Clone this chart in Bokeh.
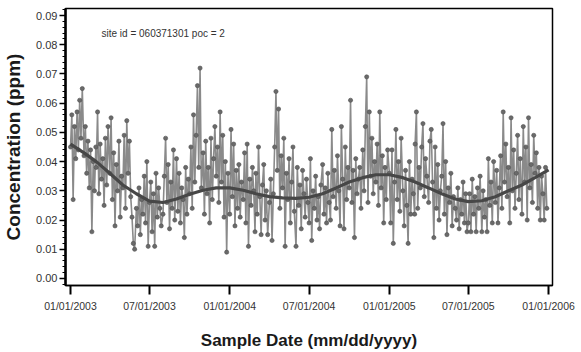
import pandas as pd
from bokeh.plotting import figure
from bokeh.models import (Range1d, FixedTicker, DatetimeTickFormatter, NumeralTickFormatter,
                          SingleIntervalTicker, Label)
from bokeh.embed import file_html
from bokeh.resources import INLINE

# ---- data (ppm), one reading every 3 days: 1,4,7,...,28 of each month ----
sample_days = [1, 4, 7, 10, 13, 16, 19, 22, 25, 28]

conc_2003 = [
    0.045, 0.056, 0.027, 0.052, 0.041, 0.057, 0.044, 0.061, 0.048, 0.065,  # Jan
    0.042, 0.052, 0.036, 0.047, 0.031, 0.044, 0.016, 0.040, 0.030, 0.045,  # Feb
    0.038, 0.057, 0.029, 0.046, 0.034, 0.041, 0.025, 0.048, 0.032, 0.052,  # Mar
    0.036, 0.055, 0.027, 0.043, 0.018, 0.039, 0.030, 0.047, 0.021, 0.035,  # Apr
    0.031, 0.049, 0.024, 0.054, 0.036, 0.047, 0.028, 0.021, 0.012, 0.010,  # May
    0.024, 0.018, 0.031, 0.015, 0.027, 0.022, 0.035, 0.019, 0.040, 0.011,  # Jun
    0.026, 0.033, 0.016, 0.029, 0.011, 0.036, 0.021, 0.031, 0.024, 0.018,  # Jul
    0.022, 0.035, 0.048, 0.026, 0.039, 0.017, 0.033, 0.024, 0.044, 0.020,  # Aug
    0.041, 0.023, 0.036, 0.019, 0.031, 0.027, 0.014, 0.038, 0.022, 0.034,  # Sep
    0.029, 0.045, 0.024, 0.056, 0.033, 0.049, 0.066, 0.038, 0.072, 0.031,  # Oct
    0.043, 0.022, 0.047, 0.029, 0.038, 0.019, 0.048, 0.027, 0.041, 0.052,  # Nov
    0.035, 0.045, 0.026, 0.057, 0.033, 0.049, 0.021, 0.040, 0.009, 0.036,  # Dec
]
conc_2004 = [
    0.022, 0.051, 0.028, 0.046, 0.018, 0.037, 0.024, 0.039, 0.021, 0.033,  # Jan
    0.027, 0.043, 0.019, 0.046, 0.011, 0.034, 0.025, 0.038, 0.030, 0.016,  # Feb
    0.036, 0.022, 0.045, 0.028, 0.015, 0.032, 0.039, 0.020, 0.030, 0.015,  # Mar
    0.026, 0.034, 0.013, 0.029, 0.045, 0.064, 0.037, 0.058, 0.024, 0.042,  # Apr
    0.031, 0.048, 0.011, 0.036, 0.027, 0.041, 0.019, 0.033, 0.045, 0.023,  # May
    0.011, 0.038, 0.025, 0.032, 0.017, 0.037, 0.029, 0.021, 0.034, 0.026,  # Jun
    0.019, 0.041, 0.013, 0.030, 0.024, 0.035, 0.020, 0.028, 0.017, 0.032,  # Jul
    0.039, 0.022, 0.031, 0.019, 0.036, 0.026, 0.020, 0.051, 0.028, 0.037,  # Aug
    0.024, 0.042, 0.030, 0.018, 0.052, 0.034, 0.017, 0.045, 0.027, 0.038,  # Sep
    0.031, 0.061, 0.026, 0.037, 0.014, 0.041, 0.029, 0.034, 0.038, 0.024,  # Oct
    0.044, 0.030, 0.052, 0.069, 0.026, 0.057, 0.035, 0.048, 0.029, 0.040,  # Nov
    0.033, 0.046, 0.025, 0.057, 0.031, 0.042, 0.019, 0.038, 0.027, 0.044,  # Dec
]
conc_2005 = [
    0.036, 0.019, 0.044, 0.012, 0.033, 0.051, 0.027, 0.040, 0.023, 0.048,  # Jan
    0.030, 0.018, 0.037, 0.025, 0.012, 0.040, 0.022, 0.034, 0.029, 0.022,  # Feb
    0.046, 0.057, 0.024, 0.038, 0.031, 0.045, 0.053, 0.028, 0.041, 0.035,  # Mar
    0.026, 0.047, 0.051, 0.033, 0.014, 0.045, 0.024, 0.039, 0.020, 0.030,  # Apr
    0.035, 0.053, 0.022, 0.040, 0.015, 0.031, 0.026, 0.036, 0.018, 0.028,  # May
    0.024, 0.020, 0.031, 0.017, 0.027, 0.022, 0.033, 0.019, 0.029, 0.016,  # Jun
    0.019, 0.029, 0.016, 0.034, 0.022, 0.028, 0.016, 0.031, 0.024, 0.035,  # Jul
    0.016, 0.030, 0.021, 0.027, 0.016, 0.041, 0.025, 0.033, 0.019, 0.040,  # Aug
    0.026, 0.037, 0.019, 0.031, 0.042, 0.024, 0.057, 0.033, 0.046, 0.028,  # Sep
    0.038, 0.019, 0.055, 0.030, 0.044, 0.024, 0.036, 0.049, 0.027, 0.041,  # Oct
    0.022, 0.052, 0.033, 0.045, 0.020, 0.055, 0.031, 0.039, 0.026, 0.049,  # Nov
    0.036, 0.043, 0.024, 0.038, 0.020, 0.035, 0.029, 0.020, 0.038, 0.024,  # Dec
]

# smoothed trend, first of each month Jan 2003 .. Jan 2006
trend = [
    0.046, 0.043, 0.040, 0.036, 0.032, 0.029, 0.0265, 0.026, 0.0272, 0.0288, 0.0302, 0.031,
    0.031, 0.0302, 0.029, 0.028, 0.0276, 0.0274, 0.0278, 0.029, 0.031, 0.033, 0.0345, 0.0355,
    0.0355, 0.0345, 0.033, 0.031, 0.029, 0.0272, 0.0263, 0.0266, 0.028, 0.030, 0.032, 0.0345,
    0.0372,
]

tick_dates = ["2003-01-01", "2003-07-01", "2004-01-01", "2004-07-01",
              "2005-01-01", "2005-07-01", "2006-01-01"]
annotation = "site id = 060371301 poc = 2"

dates = [pd.Timestamp(y, m, d) for y in (2003, 2004, 2005) for m in range(1, 13) for d in sample_days]
conc = conc_2003 + conc_2004 + conc_2005
trend_dates = [pd.Timestamp(2003 + (i // 12), i % 12 + 1, 1) for i in range(len(trend))]


def ms(ts):
    return pd.Timestamp(ts).value / 1e6


p = figure(width=581, height=352, x_axis_type="datetime", output_backend="svg",
           toolbar_location=None,
           x_range=Range1d(ms("2002-12-20 12:00"), ms("2006-01-10")),
           y_range=Range1d(-0.0024, 0.0924),
           min_border_left=64, min_border_right=29, min_border_top=8, min_border_bottom=67)

p.grid.visible = False
p.outline_line_color = "black"
p.outline_line_width = 1.5
p.background_fill_color = "white"
p.border_fill_color = "white"

p.line(dates, conc, line_color="#8a8a8a", line_width=1.6)
p.scatter(dates, conc, size=4.2, fill_color="#6a6a6a", line_color="#505050", line_width=0.6)
p.line(trend_dates, trend, line_color="#474747", line_width=3.2)

# x axis
xa = p.xaxis[0]
xa.ticker = FixedTicker(ticks=[ms(d) for d in tick_dates], minor_ticks=[])
fmt = "%m/%d/%Y"
xa.formatter = DatetimeTickFormatter(days=fmt, months=fmt, years=fmt, hours=fmt,
                                     minutes=fmt, seconds=fmt, milliseconds=fmt,
                                     hourmin=fmt, minsec=fmt, microseconds=fmt)
xa.axis_label = "Sample Date (mm/dd/yyyy)"
xa.axis_label_text_font = "Liberation Sans"
xa.axis_label_text_font_style = "bold"
xa.axis_label_text_font_size = "17px"
xa.axis_label_text_color = "#1a1a1a"
xa.axis_label_standoff = 16
xa.major_label_text_font = "Liberation Sans"
xa.major_label_text_font_size = "10.5px"
xa.major_label_text_color = "#333333"
xa.major_label_standoff = 5
xa.major_tick_out = 9
xa.major_tick_in = 0
xa.major_tick_line_width = 2
xa.axis_line_width = 1.5
xa.axis_line_color = "black"

# y axis
ya = p.yaxis[0]
ya.ticker = SingleIntervalTicker(interval=0.01, num_minor_ticks=5)
ya.formatter = NumeralTickFormatter(format="0.00")
ya.axis_label = "Concentration (ppm)"
ya.axis_label_text_font = "Liberation Sans"
ya.axis_label_text_font_style = "bold"
ya.axis_label_text_font_size = "19px"
ya.axis_label_text_color = "#1a1a1a"
ya.axis_label_standoff = 9
ya.major_label_text_font = "Liberation Sans"
ya.major_label_text_font_size = "11px"
ya.major_label_text_color = "#333333"
ya.major_label_standoff = 2
ya.major_tick_out = 6
ya.major_tick_in = 0
ya.minor_tick_out = 3
ya.minor_tick_in = 0
ya.major_tick_line_width = 1.5
ya.minor_tick_line_width = 1.2
ya.axis_line_width = 2.5
ya.axis_line_color = "black"

p.add_layout(Label(x=ms("2003-03-13"), y=0.0838, text=annotation,
                   text_font="Liberation Sans", text_font_size="10px",
                   text_color="#333333", text_baseline="middle"))

open("out.html", "w").write(file_html(p, INLINE))
